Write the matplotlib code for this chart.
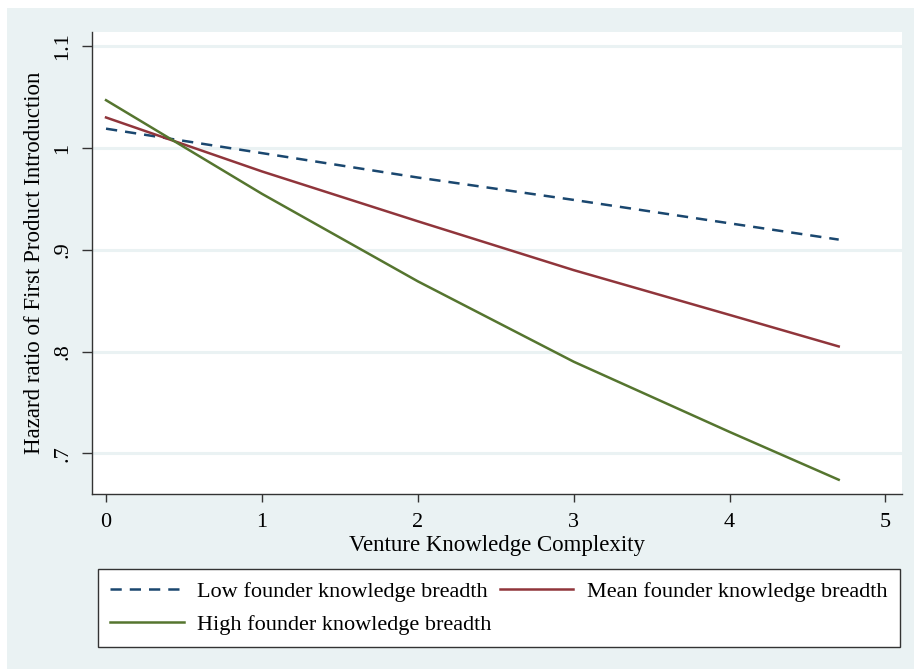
import matplotlib
matplotlib.use("Agg")
import matplotlib.pyplot as plt
from matplotlib.patches import Rectangle

plt.rcParams['font.family'] = ['Liberation Serif', 'DejaVu Serif']

x = [0, 1, 2, 3, 4, 4.7]
low = [1.019, 0.995, 0.971, 0.949, 0.926, 0.910]
mean = [1.030, 0.977, 0.928, 0.880, 0.836, 0.805]
high = [1.047, 0.955, 0.869, 0.790, 0.721, 0.674]
labels = ["Low founder knowledge breadth", "Mean founder knowledge breadth",
          "High founder knowledge breadth"]
xticks = [0, 1, 2, 3, 4, 5]
yticks = [0.7, 0.8, 0.9, 1.0, 1.1]
yticklabels = [".7", ".8", ".9", "1", "1.1"]

bg = "#EAF2F3"
W, H = 914, 669
fig = plt.figure(figsize=(W / 100, H / 100), dpi=100, facecolor="white")
fig.patches.append(Rectangle((7 / W, 0), 1 - 7 / W, 1 - 8 / H, transform=fig.transFigure,
                             facecolor=bg, edgecolor="none", zorder=-10))

ax = fig.add_axes([92 / W, 1 - 494 / H, (902 - 92) / W, (494 - 32) / H])
ax.set_facecolor("white")
ax.set_xlim(-0.09, 5.106)
ax.set_ylim(0.660, 1.114)

for yv in yticks:
    ax.axhline(yv, color=bg, lw=2.2, zorder=0)

l1, = ax.plot(x, low, color="#1A476F", lw=1.8, ls=(0, (4.5, 3.2)))
l2, = ax.plot(x, mean, color="#90353B", lw=1.8)
l3, = ax.plot(x, high, color="#55752F", lw=1.8)

for s in ["top", "right"]:
    ax.spines[s].set_visible(False)
for s in ["left", "bottom"]:
    ax.spines[s].set_color("#333333")
    ax.spines[s].set_linewidth(1.0)

ax.set_xticks(xticks)
ax.set_xticklabels([str(v) for v in xticks])
ax.set_yticks(yticks)
ax.set_yticklabels(yticklabels, rotation=90, va="center")
ax.tick_params(axis="x", length=6, width=1, color="#333333", pad=8, labelsize=16)
ax.tick_params(axis="y", length=7, width=1, color="#333333", pad=7, labelsize=16)

ax.set_xlabel("Venture Knowledge Complexity", fontsize=16.5, labelpad=2)
ax.set_ylabel("Hazard ratio of First Product Introduction", fontsize=16.5, labelpad=6)

# matplotlib fills legend columns first; order so rows read Low, Mean / High
leg = fig.legend([l1, l3, l2], [labels[0], labels[2], labels[1]], ncol=2, loc="upper left",
                 bbox_to_anchor=(98 / W, 1 - 569 / H), bbox_transform=fig.transFigure,
                 fontsize=16, frameon=True, fancybox=False, framealpha=1.0,
                 handlelength=3.3, handletextpad=0.6, columnspacing=0.4,
                 borderpad=0.55, labelspacing=0.55, borderaxespad=0)
leg.get_frame().set_edgecolor("#333333")
leg.get_frame().set_linewidth(1.0)
leg.get_frame().set_facecolor("white")

fig.savefig("out.png", dpi=100, facecolor="white")
